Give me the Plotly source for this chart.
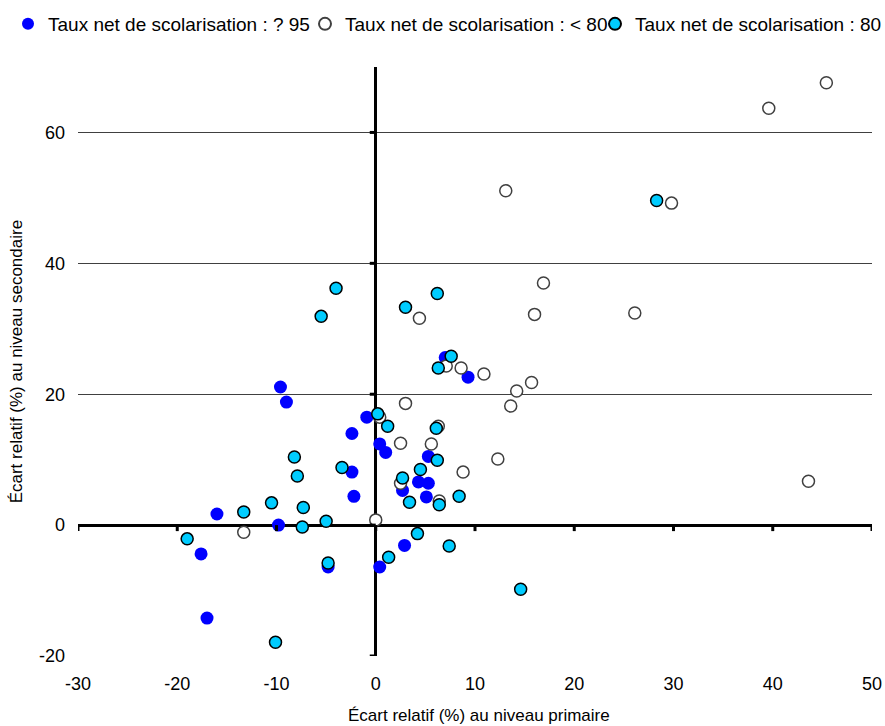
import plotly.graph_objects as go

# ---- data ----
blue_name = "Taux net de scolarisation : ? 95"
blue_x = [-9.6, -9.0, -0.9, -2.4, 0.4, 1.0, -2.4, -2.2, -16.0, -9.8, -17.6, -17.0,
          -4.8, 0.4, 2.9, 2.7, 4.3, 5.3, 5.1, 5.3, 7.0, 9.3]
blue_y = [21.1, 18.8, 16.5, 14.0, 12.4, 11.1, 8.1, 4.4, 1.7, 0.0, -4.4, -14.2,
          -6.4, -6.4, -3.1, 5.3, 6.6, 6.4, 4.3, 10.5, 25.6, 22.6]

open_name = "Taux net de scolarisation : < 80"
open_x = [45.4, 39.6, 13.1, 29.8, 16.9, 16.0, 26.1, 4.4, 7.1, 8.6, 10.9, 14.2, 15.7,
          13.6, 3.0, 0.4, 6.3, 2.5, 5.6, 12.3, 8.8, 2.5, 6.4, 0.0, -13.3, 43.6]
open_y = [67.6, 63.7, 51.1, 49.2, 37.0, 32.2, 32.4, 31.6, 24.3, 24.0, 23.1, 20.5, 21.8,
          18.2, 18.6, 16.5, 15.1, 12.5, 12.4, 10.1, 8.1, 6.4, 3.7, 0.8, -1.1, 6.7]

cyan_name = "Taux net de scolarisation : 80"
cyan_x = [-4.0, -5.5, 3.0, 6.2, 7.6, 6.3, 0.2, 1.2, 6.1, 6.2, 28.3, -8.2, -7.9, -10.5,
          -13.3, -19.0, -10.1, -3.4, -7.3, -7.4, -5.0, -4.8, 2.7, 4.5, 3.4, 6.4, 8.4,
          4.2, 7.4, 1.3, 14.6]
cyan_y = [36.2, 31.9, 33.3, 35.4, 25.8, 24.0, 17.0, 15.1, 14.8, 9.9, 49.6, 10.4, 7.5, 3.4,
          2.0, -2.1, -17.9, 8.8, 2.7, -0.3, 0.6, -5.8, 7.2, 8.5, 3.5, 3.1, 4.4,
          -1.3, -3.2, -4.9, -9.8]

x_ticks = [-30, -20, -10, 0, 10, 20, 30, 40, 50]
y_ticks = [-20, 0, 20, 40, 60]
x_ticklabels = ["-30", "-20", "-10", "0", "10", "20", "30", "40", "50"]
y_ticklabels = ["-20", "0", "20", "40", "60"]
x_title = "Écart relatif (%) au niveau primaire"
y_title = "Écart relatif (%) au niveau secondaire"

FONT = "Liberation Sans, Arial, sans-serif"
W, H = 885, 726

fig = go.Figure()
fig.add_trace(go.Scatter(x=blue_x, y=blue_y, mode="markers", name=blue_name,
                         legend="legend",
                         marker=dict(color="#0000FF", size=13, line=dict(width=0)),
                         cliponaxis=False))
fig.add_trace(go.Scatter(x=open_x, y=open_y, mode="markers", name=open_name,
                         legend="legend2",
                         marker=dict(color="#FFFFFF", size=12,
                                     line=dict(color="#404040", width=1.5)),
                         cliponaxis=False))
fig.add_trace(go.Scatter(x=cyan_x, y=cyan_y, mode="markers", name=cyan_name,
                         legend="legend3",
                         marker=dict(color="#00CCFF", size=12,
                                     line=dict(color="#000000", width=1.5)),
                         cliponaxis=False))

# small tick marks on the zero lines
shapes = []
for t in x_ticks:
    shapes.append(dict(type="line", xref="x", yref="y", x0=t, x1=t,
                       ysizemode="pixel", yanchor=0, y0=0, y1=-6,
                       line=dict(color="black", width=3), layer="above"))
for t in y_ticks:
    shapes.append(dict(type="line", xref="x", yref="y", y0=t, y1=t,
                       xsizemode="pixel", xanchor=0, x0=-6, x1=0,
                       line=dict(color="black", width=3), layer="above"))

annotations = [
    dict(text=x_title, xref="paper", yref="paper", x=0.505, y=-0.101,
         xanchor="center", yanchor="middle", showarrow=False,
         font=dict(family=FONT, size=17, color="black")),
    dict(text=y_title, xref="paper", yref="paper", x=-0.077, y=0.5,
         xanchor="center", yanchor="middle", showarrow=False, textangle=-90,
         font=dict(family=FONT, size=17, color="black")),
]


def leg(px_left):
    return dict(orientation="h", xref="container", yref="container",
                x=px_left / W, y=1 - 24 / H, xanchor="left", yanchor="middle",
                font=dict(family=FONT, size=19, color="black"),
                itemsizing="constant", bgcolor="rgba(0,0,0,0)", borderwidth=0)


fig.update_layout(
    width=W, height=H,
    margin=dict(l=78, r=13, t=67, b=70, autoexpand=False),
    paper_bgcolor="white", plot_bgcolor="white",
    font=dict(family=FONT, size=18, color="black"),
    showlegend=True,
    legend=leg(8),
    legend2=leg(305),
    legend3=leg(595),
    shapes=shapes,
    annotations=annotations,
    xaxis=dict(range=[-30, 50], tickvals=x_ticks, ticktext=x_ticklabels, showgrid=False,
               zeroline=True, zerolinecolor="black", zerolinewidth=3,
               showline=False, ticks="", ticklabelstandoff=15,
               tickfont=dict(size=18)),
    yaxis=dict(range=[-20, 70], tickvals=y_ticks, ticktext=y_ticklabels, showgrid=True,
               gridcolor="#404040", gridwidth=1,
               zeroline=True, zerolinecolor="black", zerolinewidth=3,
               showline=False, ticks="", ticklabelstandoff=12,
               tickfont=dict(size=18)),
)

fig.write_html("out.html")
